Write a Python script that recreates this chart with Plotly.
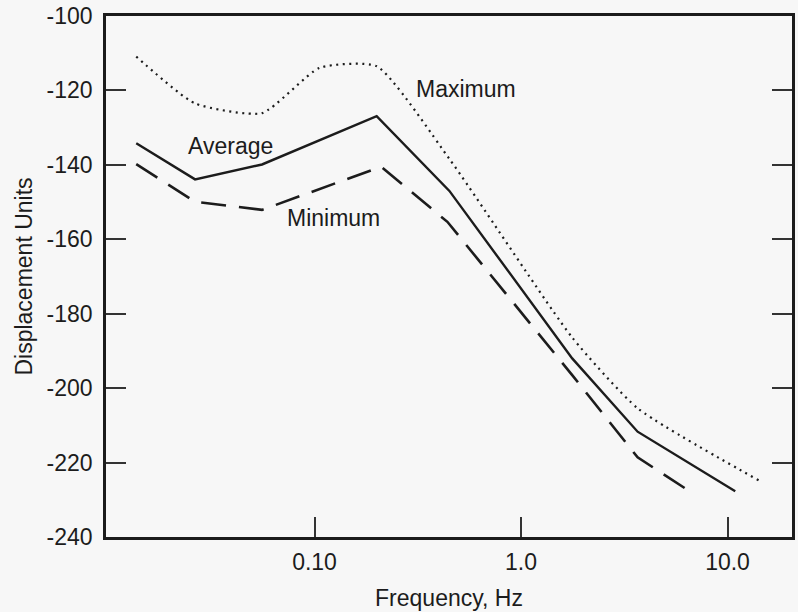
import plotly.graph_objects as go

# Frequency (Hz) and displacement levels for the three envelope curves
avg_freq = [0.0137, 0.0264, 0.0557, 0.20, 0.45, 1.77, 3.67, 10.9]
avg_disp = [-134.2, -143.9, -139.9, -126.9, -147.0, -192.0, -211.7, -227.7]

min_freq = [0.0137, 0.0264, 0.0557, 0.21, 0.44, 1.77, 3.67, 6.8]
min_disp = [-139.8, -149.9, -152.1, -140.5, -155.3, -196.5, -218.6, -228.3]

max_freq = [0.0137, 0.0264, 0.0557, 0.106, 0.20, 0.45, 1.77, 3.67, 14.4]
max_disp = [-110.9, -123.5, -126.1, -113.9, -113.5, -138.4, -186.4, -205.4, -225.0]

x_tick_vals = [0.1, 1.0, 10.0]
x_tick_text = ["0.10", "1.0", "10.0"]
y_tick_vals = [-240, -220, -200, -180, -160, -140, -120, -100]
y_tick_text = ["-240", "-220", "-200", "-180", "-160", "-140", "-120", "-100"]

INK = "#1c1c1c"
BG = "#f7f7f7"
FONT = "Liberation Sans, Arial, Helvetica, sans-serif"
FS = 23

fig = go.Figure()

fig.add_trace(go.Scatter(
    x=max_freq, y=max_disp, mode="lines",
    line=dict(color=INK, width=2.2, dash="2px,4.5px", shape="spline", smoothing=0.55),
    name="Maximum", hoverinfo="x+y",
))
fig.add_trace(go.Scatter(
    x=avg_freq, y=avg_disp, mode="lines",
    line=dict(color=INK, width=2.4),
    name="Average", hoverinfo="x+y",
))
fig.add_trace(go.Scatter(
    x=min_freq, y=min_disp, mode="lines",
    line=dict(color=INK, width=2.6, dash="25px,13px"),
    name="Minimum", hoverinfo="x+y",
))

# Curve labels (x positions in log10 units on the log axis)
labels = [
    ("Average", -1.4077, -134.9),
    ("Minimum", -0.909, -154.3),
    ("Maximum", -0.2673, -119.5),
]
for txt, lx, ly in labels:
    fig.add_annotation(
        x=lx, y=ly, xref="x", yref="y", text=txt, showarrow=False,
        font=dict(family=FONT, size=FS, color=INK),
        xanchor="center", yanchor="middle",
    )

fig.update_layout(
    width=798, height=612,
    margin=dict(l=106, r=6, t=16, b=75, autoexpand=False),
    paper_bgcolor=BG, plot_bgcolor=BG,
    showlegend=False,
    font=dict(family=FONT, size=FS, color=INK),
)

fig.update_xaxes(
    type="log", range=[-2.0097, 1.3123],
    tickvals=x_tick_vals, ticktext=x_tick_text,
    ticks="inside", ticklen=20, tickwidth=1.5, tickcolor="#333333",
    showline=True, linewidth=2.5, linecolor=INK, mirror=True,
    showgrid=False, zeroline=False,
    tickfont=dict(family=FONT, size=FS, color=INK),
    ticklabelstandoff=3,
    title=dict(text="Frequency, Hz", font=dict(family=FONT, size=FS, color=INK), standoff=16),
)
fig.update_yaxes(
    range=[-240, -100],
    tickvals=y_tick_vals, ticktext=y_tick_text,
    ticks="inside", ticklen=20, tickwidth=1.5, tickcolor="#333333",
    showline=True, linewidth=2.5, linecolor=INK, mirror="ticks",
    showgrid=False, zeroline=False,
    tickfont=dict(family=FONT, size=FS, color=INK),
    ticklabelstandoff=6,
    title=dict(text="Displacement Units", font=dict(family=FONT, size=FS, color=INK), standoff=8),
)

fig.write_html("out.html")
